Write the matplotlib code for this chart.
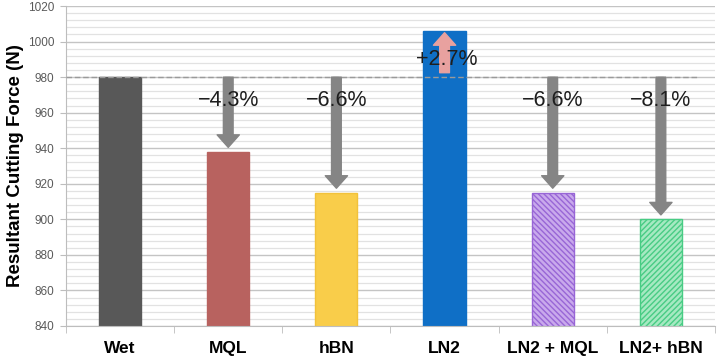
import matplotlib
matplotlib.use("Agg")
import matplotlib.pyplot as plt
import numpy as np
from matplotlib.ticker import MultipleLocator

plt.rcParams["font.family"] = ["Liberation Sans", "DejaVu Sans"]
plt.rcParams["hatch.linewidth"] = 1.0

# data
CATS = ["Wet", "MQL", "hBN", "LN2", "LN2 + MQL", "LN2+ hBN"]
FORCE = [980, 938, 915, 1006, 915, 900]
PCT = ["", "\u22124.3%", "\u22126.6%", "+2.7%", "\u22126.6%", "\u22128.1%"]
BASE = 980

FACE = ["#585858", "#b8625f", "#f9cd4a", "#0f6fc6", "#c9a9ec", "#a6e9c2"]
EDGE = ["#585858", "#b8625f", "#f2c23a", "#0f6fc6", "#9866d6", "#48cc84"]
HATCH = [None, None, None, None, "\\\\\\\\\\\\", "//////"]

fig = plt.figure(figsize=(7.19, 3.56), dpi=100)
ax = fig.add_axes([0.0918, 0.0843, 0.9026, 0.8987])

x = np.arange(len(CATS))
for i in range(len(CATS)):
    ax.bar(x[i], FORCE[i], 0.39, color=FACE[i], edgecolor=EDGE[i],
           hatch=HATCH[i], linewidth=1.0, zorder=2)

ax.set_ylim(840, 1020)
ax.set_xlim(-0.5, len(CATS) - 0.5)
ax.yaxis.set_major_locator(MultipleLocator(20))
ax.yaxis.set_minor_locator(MultipleLocator(4))
ax.grid(axis="y", which="major", color="#c4c4c4", lw=1.0)
ax.grid(axis="y", which="minor", color="#e2e2e2", lw=0.9)
ax.set_axisbelow(True)

# baseline reference
ax.hlines(BASE, -0.5, 5.33, colors="#9a9a9a", linestyles=(0, (4, 2)),
          lw=1.0, zorder=3)

ARROW = "simple,head_length=9,head_width=16,tail_width=7"
for i, (v, lbl) in enumerate(zip(FORCE, PCT)):
    if not lbl:
        continue
    if v < BASE:
        ax.annotate("", xy=(x[i], v + 2.5), xytext=(x[i], BASE),
                    arrowprops=dict(arrowstyle=ARROW, mutation_scale=1,
                                    color="#858585", shrinkA=0, shrinkB=0),
                    zorder=4)
        ax.text(x[i], 967, lbl, ha="center", va="center", fontsize=15.5,
                color="#1e1e1e", zorder=5)
    else:
        ax.annotate("", xy=(x[i], v - 1), xytext=(x[i], BASE + 2.5),
                    arrowprops=dict(arrowstyle=ARROW, mutation_scale=1,
                                    color="#e8a19f", shrinkA=0, shrinkB=0),
                    zorder=4)
        ax.text(x[i] + 0.02, 990, lbl, ha="center", va="center", fontsize=15.5,
                color="#1e1e1e", zorder=5)

ax.set_xticks(x, CATS, fontsize=12.5, fontweight="bold")
ax.set_xticks(np.arange(len(CATS) + 1) - 0.5, minor=True)
ax.tick_params(axis="x", which="major", length=0, pad=10.5)
ax.tick_params(axis="x", which="minor", length=5, color="#bdbdbd")
ax.tick_params(axis="y", which="major", length=4.5, color="#bdbdbd",
               labelsize=8.5, labelcolor="#5a5a5a", pad=4)
ax.tick_params(axis="y", which="minor", length=0)

for s in ("top", "right"):
    ax.spines[s].set_visible(False)
for s in ("left", "bottom"):
    ax.spines[s].set_color("#bdbdbd")

ax.set_ylabel("Resultant Cutting Force (N)", fontsize=13.5, fontweight="bold",
              labelpad=3)

fig.savefig("out.png", dpi=100)
